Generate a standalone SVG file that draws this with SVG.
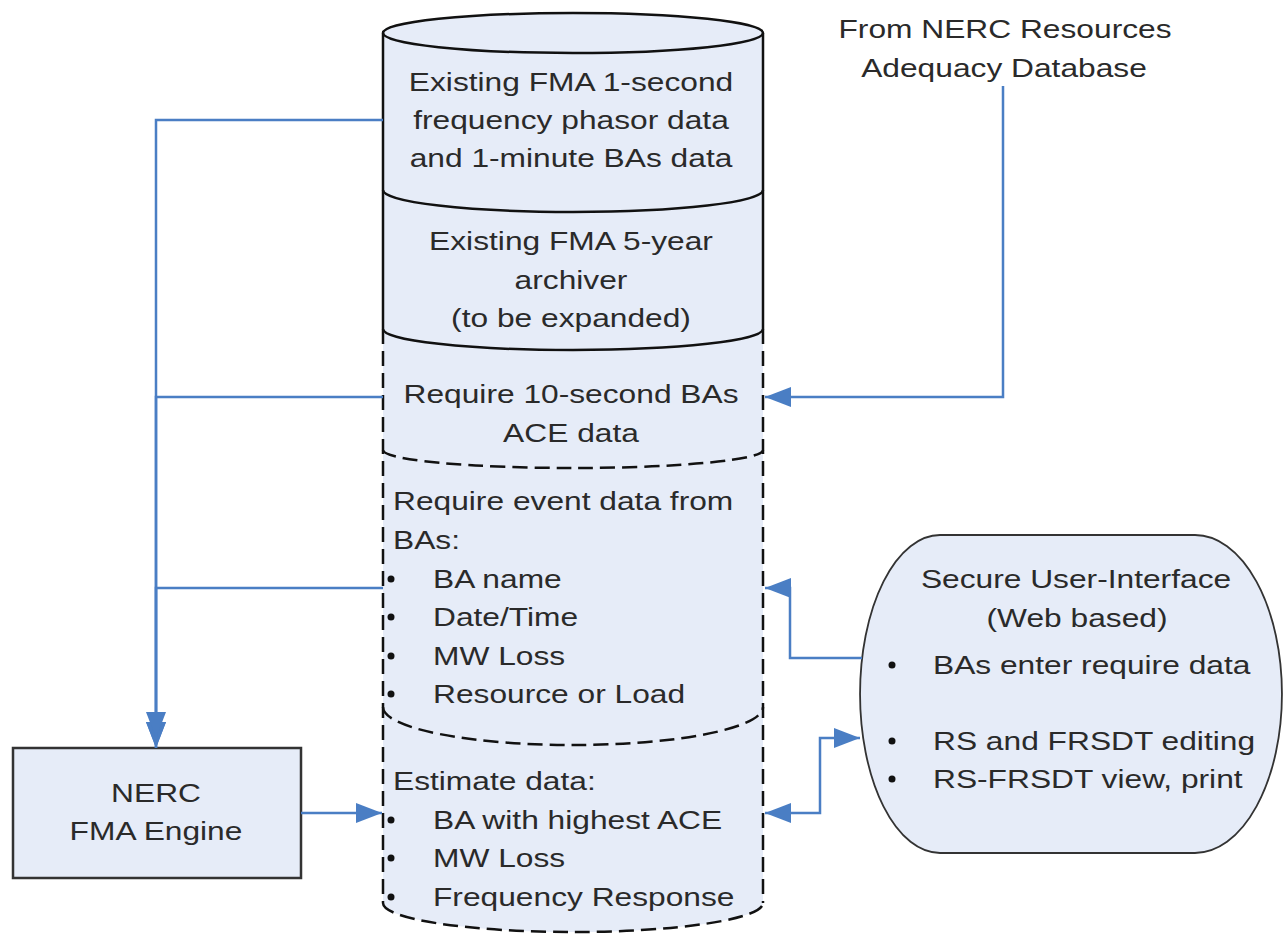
<svg xmlns="http://www.w3.org/2000/svg" width="1287" height="934" viewBox="0 0 1287 934">
<style>
.t{font-family:"Liberation Sans",Arial,sans-serif;font-size:26px;fill:#2a2a2a}
.m{text-anchor:middle}
.fill{fill:#E6ECF8}
.solid{fill:none;stroke:#111;stroke-width:2.5}
.dash{fill:none;stroke:#111;stroke-width:2.5;stroke-dasharray:15 7}
.c{fill:none;stroke:#4A7EC4;stroke-width:2.5}
.b{fill:#111}
</style>
<defs>
<marker id="ah" markerUnits="userSpaceOnUse" markerWidth="30" markerHeight="22" refX="26" refY="10" orient="auto-start-reverse">
<path d="M0,0 L26,10 L0,20 z" fill="#4A7EC4"/>
</marker>
</defs>
<rect width="1287" height="934" fill="#fff"/>

<g id="database">
<path class="fill" d="M383,33 A190,20 0 0 1 763,33 V903 A190,29 0 0 1 383,903 Z"/>
<path class="solid" d="M383,33 A190,20 0 0 1 763,33 A190,20 0 0 1 383,33 Z"/>
<path class="solid" d="M383,33 V329 M763,33 V329"/>
<path class="solid" d="M383,190 A190,22 0 0 0 763,190"/>
<path class="solid" d="M383,329 A190,21 0 0 0 763,329"/>
<path class="dash" d="M383,329 V903 M763,329 V903"/>
<path class="dash" d="M383,450 A190,18 0 0 0 763,450"/>
<path class="dash" d="M383,707 A190,38 0 0 0 763,707"/>
<path class="dash" d="M383,903 A190,29 0 0 0 763,903"/>
<g class="t m">
<text transform="translate(571,91) scale(1.22,1)">Existing FMA 1-second</text>
<text transform="translate(571,129) scale(1.22,1)">frequency phasor data</text>
<text transform="translate(571,167) scale(1.22,1)">and 1-minute BAs data</text>
<text transform="translate(571,250) scale(1.22,1)">Existing FMA 5-year</text>
<text transform="translate(571,289) scale(1.22,1)">archiver</text>
<text transform="translate(571,327) scale(1.22,1)">(to be expanded)</text>
<text transform="translate(571,403) scale(1.22,1)">Require 10-second BAs</text>
<text transform="translate(571,442) scale(1.22,1)">ACE data</text>
</g>
<g class="t">
<text transform="translate(393,510) scale(1.22,1)">Require event data from</text>
<text transform="translate(393,549) scale(1.22,1)">BAs:</text>
<text transform="translate(433,588) scale(1.22,1)">BA name</text>
<text transform="translate(433,626) scale(1.22,1)">Date/Time</text>
<text transform="translate(433,665) scale(1.22,1)">MW Loss</text>
<text transform="translate(433,703) scale(1.22,1)">Resource or Load</text>
<text transform="translate(393,790) scale(1.22,1)">Estimate data:</text>
<text transform="translate(433,829) scale(1.22,1)">BA with highest ACE</text>
<text transform="translate(433,867) scale(1.22,1)">MW Loss</text>
<text transform="translate(433,906) scale(1.22,1)">Frequency Response</text>
</g>
<g class="b">
<circle cx="391" cy="579" r="3.5"/>
<circle cx="391" cy="617" r="3.5"/>
<circle cx="391" cy="656" r="3.5"/>
<circle cx="391" cy="694" r="3.5"/>
<circle cx="391" cy="820" r="3.5"/>
<circle cx="391" cy="858" r="3.5"/>
<circle cx="391" cy="897" r="3.5"/>
</g>
</g>

<g id="engine">
<rect x="13" y="748" width="288" height="130" fill="#E6ECF8" stroke="#333" stroke-width="2.5"/>
<text class="t m" transform="translate(156,802) scale(1.22,1)">NERC</text>
<text class="t m" transform="translate(156,840) scale(1.22,1)">FMA Engine</text>
</g>

<g id="ui">
<path d="M940,535 H1195 A87,159 0 0 1 1195,853 H940 A80,159 0 0 1 940,535 Z" fill="#E6ECF8" stroke="#333" stroke-width="1.8"/>
<text class="t m" transform="translate(1076,588) scale(1.22,1)">Secure User-Interface</text>
<text class="t m" transform="translate(1077,627) scale(1.22,1)">(Web based)</text>
<text class="t" transform="translate(933,674) scale(1.22,1)">BAs enter require data</text>
<text class="t" transform="translate(933,750) scale(1.22,1)">RS and FRSDT editing</text>
<text class="t" transform="translate(933,788) scale(1.22,1)">RS-FRSDT view, print</text>
<g class="b">
<circle cx="892" cy="665" r="3.5"/>
<circle cx="892" cy="741" r="3.5"/>
<circle cx="892" cy="779" r="3.5"/>
</g>
</g>

<g id="source">
<text class="t m" transform="translate(1005,38) scale(1.22,1)">From NERC Resources</text>
<text class="t m" transform="translate(1004,77) scale(1.22,1)">Adequacy Database</text>
</g>

<g id="connectors">
<path class="c" d="M383,120 H156 V748" marker-end="url(#ah)"/>
<path class="c" d="M383,397 H156 V748" marker-end="url(#ah)"/>
<path class="c" d="M383,588 H156 V738" marker-end="url(#ah)"/>
<path class="c" d="M1003,86 V397 H765" marker-end="url(#ah)"/>
<path class="c" d="M862,658 H790 V588 H765" marker-end="url(#ah)"/>
<path class="c" d="M765,813 H820 V738 H860" marker-start="url(#ah)" marker-end="url(#ah)"/>
<path class="c" d="M301,813 H382" marker-end="url(#ah)"/>
</g>
</svg>
